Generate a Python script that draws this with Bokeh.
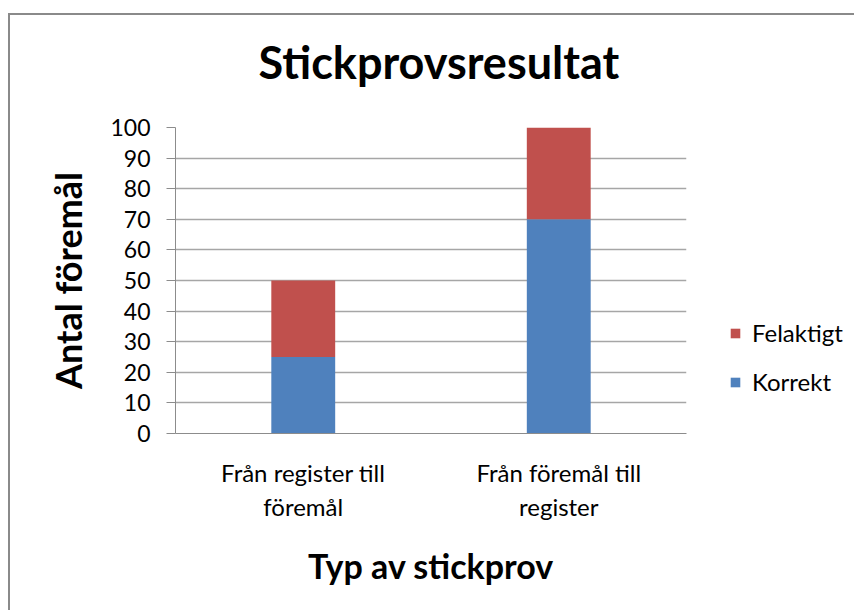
from bokeh.plotting import figure
from bokeh.layouts import row
from bokeh.models import Legend, LegendItem, FactorRange, Range1d, SingleIntervalTicker, Title
from bokeh.embed import file_html
from bokeh.resources import INLINE

categories = ["Från register till\nföremål", "Från föremål till\nregister"]
series = ["Korrekt", "Felaktigt"]
korrekt = [25, 70]
felaktigt = [25, 30]
colors = ["#4F81BD", "#C0504D"]
y_ticks = list(range(0, 101, 10))

FONT = "Lato"
GRAY = "#8c8c8c"

W, H = 684, 595
p = figure(x_range=FactorRange(*categories, range_padding=0), y_range=Range1d(0, 100),
           width=W, height=H, output_backend="svg", toolbar_location=None, title=None,
           min_border_left=165, min_border_right=8, min_border_top=112, min_border_bottom=177)

data = {"cat": categories, "Korrekt": korrekt, "Felaktigt": felaktigt}
rs = p.vbar_stack(series, x="cat", width=0.25, color=colors, source=data, line_color=None)

# spacer panel between frame and title, then the title itself
p.add_layout(Title(text=" ", text_font=FONT, text_font_size="20px", standoff=8), "above")
p.add_layout(Title(text="Stickprovsresultat", text_font=FONT, text_font_size="45px",
                   text_font_style="bold", text_color="black", align="left", offset=83,
                   vertical_align="bottom", standoff=10), "above")

p.outline_line_color = None
p.background_fill_color = "white"
p.border_fill_color = "white"

p.xgrid.grid_line_color = None
p.ygrid.grid_line_color = "#a6a6a6"
p.ygrid.grid_line_width = 1.5
p.ygrid.ticker = SingleIntervalTicker(interval=10)

p.yaxis.ticker = y_ticks
p.yaxis.axis_line_color = GRAY
p.yaxis.major_tick_line_color = GRAY
p.yaxis.major_tick_out = 9
p.yaxis.major_tick_in = 0
p.yaxis.minor_tick_line_color = None
p.yaxis.major_label_text_font = FONT
p.yaxis.major_label_text_font_size = "23px"
p.yaxis.major_label_text_color = "black"
p.yaxis.major_label_standoff = 16
p.yaxis.axis_label = "Antal föremål"
p.yaxis.axis_label_text_font = FONT
p.yaxis.axis_label_text_font_size = "36px"
p.yaxis.axis_label_text_font_style = "bold"
p.yaxis.axis_label_text_color = "black"
p.yaxis.axis_label_standoff = 17

p.xaxis.axis_line_color = GRAY
p.xaxis.major_tick_line_color = None
p.xaxis.minor_tick_line_color = None
p.xaxis.major_label_text_font = FONT
p.xaxis.major_label_text_font_size = "24px"
p.xaxis.major_label_text_color = "black"
p.xaxis.major_label_standoff = 18
p.xaxis.axis_label = "Typ av stickprov"
p.xaxis.axis_label_text_font = FONT
p.xaxis.axis_label_text_font_size = "34px"
p.xaxis.axis_label_text_font_style = "bold"
p.xaxis.axis_label_text_color = "black"
p.xaxis.axis_label_standoff = 21

# legend panel: same data, renderers hidden so only the legend shows
p2 = figure(width=160, height=H, output_backend="svg", toolbar_location=None,
            x_range=FactorRange(*categories), y_range=Range1d(1000, 1001),
            x_axis_location=None, y_axis_location=None,
            min_border_left=0, min_border_right=0, min_border_top=0, min_border_bottom=0)
p2.grid.grid_line_color = None
p2.outline_line_color = None
p2.background_fill_color = "white"
p2.border_fill_color = "white"
lr = p2.vbar_stack(series, x="cat", width=0.25, color=colors, source=data, line_color=None)
for r in lr:
    r.visible = False

legend = Legend(items=[LegendItem(label=series[1], renderers=[lr[1]]),
                       LegendItem(label=series[0], renderers=[lr[0]])],
                location=(35, 37), orientation="vertical")
legend.glyph_width = 12
legend.glyph_height = 12
legend.label_text_font = FONT
legend.label_text_font_size = "24px"
legend.label_text_color = "black"
legend.label_standoff = 11
legend.label_height = 25
legend.spacing = 20
legend.padding = 0
legend.margin = 0
legend.border_line_color = None
legend.background_fill_alpha = 0
legend.inactive_fill_alpha = 0
p2.add_layout(legend, "center")

layout = row(p, p2, spacing=0)
layout.styles = {"margin-left": "8px", "margin-top": "13px",
                 "border-top": "2px solid #8a8a8a", "border-left": "2px solid #8a8a8a"}

open("out.html", "w").write(file_html(layout, INLINE))
